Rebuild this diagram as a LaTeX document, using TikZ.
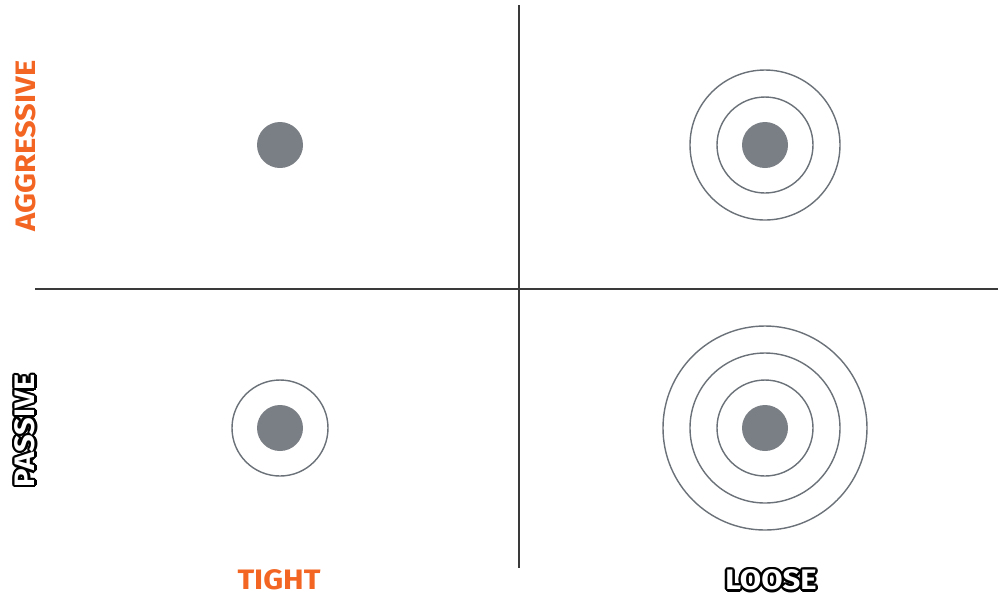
\documentclass[tikz,border=0pt]{standalone}
\usepackage{fontspec}
\setsansfont{Fira Sans}[FakeStretch=1.1]
\usetikzlibrary{calc}
\definecolor{axisorange}{HTML}{F26522}
\definecolor{dotgray}{HTML}{7A7F85}
\definecolor{ringgray}{HTML}{6B7178}
\definecolor{axisline}{HTML}{3A3A3A}
\tikzset{
  ring/.style={draw=ringgray, line width=0.8pt},
  hit/.style={fill=dotgray},
  lbl/.style={font=\sffamily\bfseries\fontsize{16}{16}\selectfont, inner sep=0pt},
}
% outlined label: black copies round a white one
\newcommand{\outlined}[4]{%
  \foreach \ang in {0,30,...,330}
    \node[lbl, text=black, rotate=#3] (#1-\ang) at ($(#2)+(\ang:2.4)$) {#4};
  \node[lbl, text=white, rotate=#3] (#1) at (#2) {#4};
}
\begin{document}
\begin{tikzpicture}[x=0.02cm, y=-0.02cm]
  \useasboundingbox (0,0) rectangle (998,600);

  % Axes
  \coordinate (top) at (519,5);
  \coordinate (bottom) at (519,568);
  \coordinate (left) at (35,289);
  \coordinate (right) at (998,289);
  \draw[axisline, line width=0.85pt] (top) -- (bottom);
  \draw[axisline, line width=0.85pt] (left) -- (right);

  % Centres of the four groups
  \coordinate (AT) at (280,145);
  \coordinate (AL) at (765,145);
  \coordinate (PT) at (280,428);
  \coordinate (PL) at (765,428);

  % Rings
  \draw[ring] (AL) circle (48);
  \draw[ring] (AL) circle (75);
  \draw[ring] (PT) circle (48);
  \draw[ring] (PL) circle (48);
  \draw[ring] (PL) circle (75);
  \draw[ring] (PL) circle (102);

  % Dots
  \fill[hit] (AT) circle (23);
  \fill[hit] (AL) circle (23);
  \fill[hit] (PT) circle (23);
  \fill[hit] (PL) circle (23);

  % Labels
  \node[lbl, text=axisorange, rotate=90] (aggr) at (26,146) {AGGRESSIVE};
  \node[lbl, text=axisorange] (tight) at (279,580) {TIGHT};
  \coordinate (passpos) at (25,431);
  \coordinate (loosepos) at (771,580);
  \outlined{pass}{passpos}{90}{PASSIVE}
  \outlined{loose}{loosepos}{0}{LOOSE}

\end{tikzpicture}
\end{document}
